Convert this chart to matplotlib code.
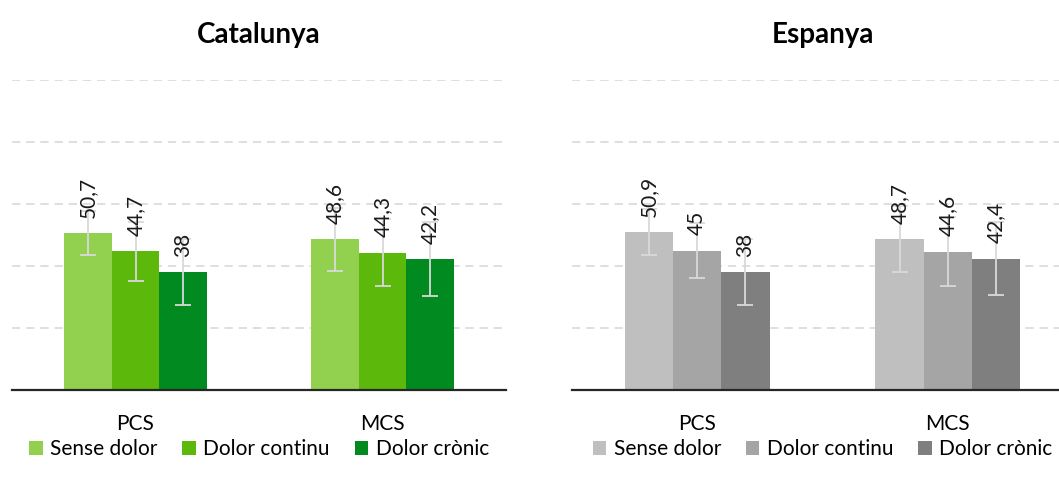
import matplotlib
matplotlib.use("Agg")
import matplotlib.pyplot as plt
import numpy as np

plt.rcParams['font.family'] = ['Lato', 'DejaVu Sans']

categories = ["PCS", "MCS"]
series_names = ["Sense dolor", "Dolor continu", "Dolor crònic"]

cat_values = {
    "Sense dolor": [50.7, 48.6],
    "Dolor continu": [44.7, 44.3],
    "Dolor crònic": [38.0, 42.2],
}
cat_errors = {
    "Sense dolor": [7.2, 10.2],
    "Dolor continu": [9.4, 10.8],
    "Dolor crònic": [10.7, 11.9],
}
esp_values = {
    "Sense dolor": [50.9, 48.7],
    "Dolor continu": [45.0, 44.6],
    "Dolor crònic": [38.0, 42.4],
}
esp_errors = {
    "Sense dolor": [7.4, 10.5],
    "Dolor continu": [8.8, 11.1],
    "Dolor crònic": [10.7, 11.8],
}

green_colors = ["#92D050", "#5CB90C", "#008A20"]
gray_colors = ["#BFBFBF", "#A5A5A5", "#7F7F7F"]

W, H = 1059, 484
fig = plt.figure(figsize=(W / 100, H / 100), dpi=100)


def fmt(v):
    s = f"{v:.1f}"
    if s.endswith(".0"):
        s = s[:-2]
    return s.replace(".", ",")


def draw_panel(rect, title, values, errors, colors):
    ax = fig.add_axes(rect)
    x = np.arange(len(categories))
    width = 0.1925
    offsets = [-width, 0, width]
    handles = []
    for name, off, col in zip(series_names, offsets, colors):
        vals = values[name]
        errs = errors[name]
        bars = ax.bar(x + off, vals, width, color=col, zorder=2,
                      edgecolor='none', label=name)
        handles.append(bars)
        ax.errorbar(x + off, vals, yerr=errs, fmt='none', ecolor='#D9D9D9',
                    elinewidth=1.3, capsize=5.5, capthick=1.3, zorder=3)
        for xi, v in zip(x + off, vals):
            ax.annotate(fmt(v), xy=(xi, v), xytext=(0, 11),
                        textcoords='offset points', rotation=90,
                        ha='center', va='bottom', fontsize=15,
                        color='#1a1a1a', zorder=4)
    ax.set_xlim(-0.5, 1.5)
    ax.set_ylim(0, 100)
    ax.set_yticks([20, 40, 60, 80, 100])
    ax.yaxis.grid(True, color='#D9D9D9', linestyle=(0, (5, 3.5)),
                  linewidth=1.2, zorder=0)
    ax.set_axisbelow(True)
    ax.tick_params(axis='y', left=False, labelleft=False)
    ax.set_xticks(x)
    ax.set_xticklabels(categories, fontsize=15)
    ax.tick_params(axis='x', length=0, pad=17.5)
    for s in ['top', 'right', 'left']:
        ax.spines[s].set_visible(False)
    ax.spines['bottom'].set_color('#262626')
    ax.spines['bottom'].set_linewidth(1.6)
    ax.spines['bottom'].set_zorder(5)
    ax.set_title(title, fontsize=20, fontweight='bold', pad=27)
    ax.legend(handles=handles, loc='center', bbox_to_anchor=(0.5, -0.19),
              ncol=3, frameon=False, fontsize=15, handlelength=0.65,
              handleheight=0.65, handletextpad=0.35, columnspacing=1.2)
    return ax


draw_panel([12 / W, 94 / H, 494 / W, 310 / H], "Catalunya",
           cat_values, cat_errors, green_colors)
draw_panel([572 / W, 94 / H, 501 / W, 310 / H], "Espanya",
           esp_values, esp_errors, gray_colors)

fig.savefig("out.png", dpi=100)
